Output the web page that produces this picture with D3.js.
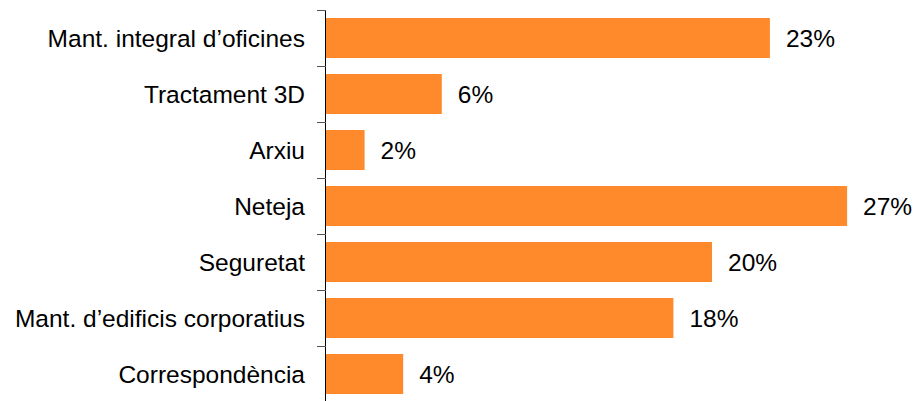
<!DOCTYPE html>
<html>
<head>
    <meta charset="utf-8">
    <title>Serveis - percentatge</title>
    <script src="https://cdnjs.cloudflare.com/ajax/libs/d3/7.8.5/d3.min.js"></script>
    <style>
        body { margin: 0; background: #fff; }
        svg { display: block; font-family: "Liberation Sans", Arial, sans-serif; }
    </style>
</head>
<body>
    <div id="chart"></div>
    <script>
        // data
        const categories = [
            "Mant. integral d\u2019oficines",
            "Tractament 3D",
            "Arxiu",
            "Neteja",
            "Seguretat",
            "Mant. d\u2019edificis corporatius",
            "Correspond\u00e8ncia"
        ];
        const values = [23, 6, 2, 27, 20, 18, 4];

        const width = 914, height = 401;
        const margin = {top: 10, left: 326, right: 9, bottom: 0};
        const fontSize = 24.5;

        const svg = d3.select("#chart").append("svg")
            .attr("width", width)
            .attr("height", height);

        const x = d3.scaleLinear()
            .domain([0, 30])
            .range([margin.left, margin.left + 19.3 * 30]);

        const y = d3.scaleBand()
            .domain(categories)
            .range([margin.top, margin.top + 56 * categories.length])
            .paddingInner(16 / 56)
            .paddingOuter(8 / 56);

        // bars
        svg.selectAll("rect.bar")
            .data(values)
            .enter()
            .append("rect")
            .attr("class", "bar")
            .attr("x", x(0))
            .attr("y", (d, i) => y(categories[i]))
            .attr("width", d => x(d) - x(0))
            .attr("height", y.bandwidth())
            .attr("fill", "#ff8a2b");

        // value labels
        svg.selectAll("text.val")
            .data(values)
            .enter()
            .append("text")
            .attr("class", "val")
            .attr("x", d => x(d) + 16)
            .attr("y", (d, i) => y(categories[i]) + y.bandwidth() / 2)
            .attr("dy", "0.38em")
            .attr("font-size", fontSize)
            .attr("fill", "#000")
            .text(d => d + "%");

        // category axis with ticks on band boundaries
        const g = svg.append("g");
        g.append("line")
            .attr("x1", margin.left - 0.5).attr("x2", margin.left - 0.5)
            .attr("y1", margin.top).attr("y2", margin.top + 56 * categories.length)
            .attr("stroke", "#000");
        const bounds = d3.range(categories.length + 1).map(i => margin.top + i * 56);
        g.selectAll("line.tick")
            .data(bounds)
            .enter()
            .append("line")
            .attr("class", "tick")
            .attr("x1", margin.left - 9).attr("x2", margin.left)
            .attr("y1", d => d + 0.5).attr("y2", d => d + 0.5)
            .attr("stroke", "#555");
        g.selectAll("text.cat")
            .data(categories)
            .enter()
            .append("text")
            .attr("class", "cat")
            .attr("x", margin.left - 21)
            .attr("y", d => y(d) + y.bandwidth() / 2)
            .attr("dy", "0.38em")
            .attr("text-anchor", "end")
            .attr("font-size", fontSize)
            .attr("fill", "#000")
            .text(d => d);
    </script>
</body>
</html>
